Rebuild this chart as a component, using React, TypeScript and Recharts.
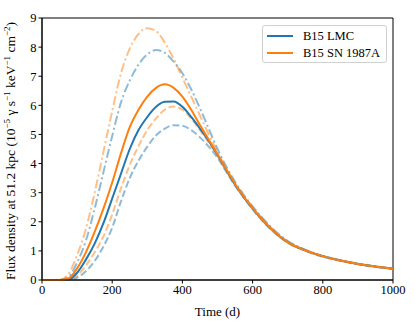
import React from "react"
import { LineChart, Line, XAxis, YAxis, ReferenceArea } from "recharts"

// time grid (days)
const days = [0, 25, 50, 75, 100, 125, 150, 175, 200, 225, 250, 275, 300, 325, 350, 375, 400, 425, 450, 475, 500, 525, 550, 575, 600, 650, 700, 750, 800, 850, 900, 950, 1000]

// flux density, 10^-5 gamma s^-1 keV^-1 cm^-2
const lmc = [0, 0, 0, 0.02, 0.25, 0.7, 1.25, 1.95, 2.8, 3.65, 4.5, 5.15, 5.6, 5.95, 6.12, 6.13, 5.95, 5.6, 5.2, 4.78, 4.3, 3.78, 3.28, 2.85, 2.46, 1.79, 1.3, 1.02, 0.82, 0.67, 0.55, 0.46, 0.39]
const sn1987a = [0, 0, 0, 0.05, 0.4, 0.95, 1.65, 2.45, 3.35, 4.35, 5.25, 5.85, 6.3, 6.6, 6.72, 6.6, 6.3, 5.85, 5.32, 4.82, 4.32, 3.8, 3.3, 2.86, 2.47, 1.8, 1.3, 1.02, 0.82, 0.67, 0.55, 0.46, 0.39]
const lmcDashed = [0, 0, 0, 0, 0.08, 0.3, 0.65, 1.15, 1.8, 2.7, 3.5, 4.1, 4.58, 4.97, 5.2, 5.32, 5.3, 5.15, 4.9, 4.58, 4.2, 3.72, 3.24, 2.82, 2.43, 1.76, 1.28, 1.0, 0.8, 0.66, 0.54, 0.45, 0.38]
const snDashed = [0, 0, 0, 0.01, 0.15, 0.5, 0.95, 1.5, 2.25, 3.15, 3.95, 4.6, 5.15, 5.55, 5.85, 5.96, 5.85, 5.55, 5.15, 4.72, 4.26, 3.76, 3.26, 2.84, 2.44, 1.77, 1.28, 1.01, 0.81, 0.66, 0.55, 0.46, 0.38]
const lmcDashDot = [0, 0, 0, 0.1, 0.6, 1.35, 2.45, 3.7, 4.95, 6.1, 6.85, 7.4, 7.75, 7.9, 7.8, 7.5, 7.1, 6.55, 5.9, 5.2, 4.5, 3.9, 3.37, 2.92, 2.53, 1.85, 1.34, 1.04, 0.83, 0.68, 0.56, 0.47, 0.39]
const snDashDot = [0, 0, 0, 0.2, 0.85, 1.75, 3.0, 4.4, 5.8, 7.1, 7.95, 8.45, 8.65, 8.55, 8.15, 7.6, 6.95, 6.3, 5.65, 5.0, 4.4, 3.84, 3.33, 2.9, 2.51, 1.83, 1.33, 1.03, 0.82, 0.68, 0.56, 0.47, 0.39]

const xTicks = [0, 200, 400, 600, 800, 1000]
const yTicks = [0, 1, 2, 3, 4, 5, 6, 7, 8, 9]

const BLUE = "#1f77b4"
const ORANGE = "#ff7f0e"
const FONT = "'Liberation Serif', 'DejaVu Serif', serif"

const data = days.map((t, i) => ({
  t,
  lmc: lmc[i],
  sn: sn1987a[i],
  lmcDashed: lmcDashed[i],
  snDashed: snDashed[i],
  lmcDashDot: lmcDashDot[i],
  snDashDot: snDashDot[i],
}))

function YLabel() {
  const sup = { fontSize: 9 }
  return (
    <text x={15} y={151} transform="rotate(-90, 15, 151)" textAnchor="middle" fontSize={13.5} fontFamily={FONT} fill="#000">
      Flux density at 51.2 kpc (10
      <tspan dy={-5} style={sup}>−5</tspan>
      <tspan dy={5}> γ s</tspan>
      <tspan dy={-5} style={sup}>−1</tspan>
      <tspan dy={5}> keV</tspan>
      <tspan dy={-5} style={sup}>−1</tspan>
      <tspan dy={5}> cm</tspan>
      <tspan dy={-5} style={sup}>−2</tspan>
      <tspan dy={5}>)</tspan>
    </text>
  )
}

export default function App() {
  const tick = { fontSize: 12.5, fontFamily: FONT, fill: "#000" }
  return (
    <div style={{ position: "absolute", left: 0, top: 0, width: 415, height: 327, background: "#fff" }}>
      <LineChart width={415} height={327} data={data} margin={{ top: 18, right: 22, left: 12, bottom: 17 }}>
        <XAxis
          dataKey="t"
          type="number"
          domain={[0, 1000]}
          ticks={xTicks}
          tick={tick}
          tickSize={3.5}
          tickLine={{ stroke: "#000" }}
          axisLine={{ stroke: "#000" }}
          height={30}
          label={{ value: "Time (d)", position: "insideBottom", offset: -6, style: { fontSize: 13, fontFamily: FONT, fill: "#000" } }}
        />
        <YAxis
          type="number"
          domain={[0, 9]}
          ticks={yTicks}
          tick={tick}
          tickSize={3.5}
          tickLine={{ stroke: "#000" }}
          axisLine={{ stroke: "#000" }}
          width={30}
          label={{ content: () => <YLabel /> }}
        />
        <ReferenceArea x1={0} x2={1000} y1={0} y2={9} fill="none" stroke="#000" strokeWidth={1} />
        <Line dataKey="lmcDashed" type="monotone" stroke={BLUE} strokeOpacity={0.5} strokeWidth={2} strokeDasharray="7 3" dot={false} isAnimationActive={false} />
        <Line dataKey="snDashed" type="monotone" stroke={ORANGE} strokeOpacity={0.5} strokeWidth={2} strokeDasharray="7 3" dot={false} isAnimationActive={false} />
        <Line dataKey="lmcDashDot" type="monotone" stroke={BLUE} strokeOpacity={0.5} strokeWidth={2} strokeDasharray="9 3 2 3" dot={false} isAnimationActive={false} />
        <Line dataKey="snDashDot" type="monotone" stroke={ORANGE} strokeOpacity={0.5} strokeWidth={2} strokeDasharray="9 3 2 3" dot={false} isAnimationActive={false} />
        <Line dataKey="lmc" type="monotone" stroke={BLUE} strokeWidth={2} dot={false} isAnimationActive={false} />
        <Line dataKey="sn" type="monotone" stroke={ORANGE} strokeWidth={2} dot={false} isAnimationActive={false} />
      </LineChart>
      <div
        style={{
          position: "absolute",
          left: 262,
          top: 25,
          width: 125,
          height: 38,
          boxSizing: "border-box",
          border: "1px solid #d0d0d0",
          borderRadius: 3,
          background: "rgba(255,255,255,0.8)",
          fontFamily: FONT,
          fontSize: 12.5,
          color: "#000",
        }}
      >
        {[
          { name: "B15 LMC", color: BLUE },
          { name: "B15 SN 1987A", color: ORANGE },
        ].map((e, i) => (
          <div key={e.name} style={{ position: "absolute", left: 4, top: 3 + i * 17, height: 14, display: "flex", alignItems: "center", whiteSpace: "nowrap" }}>
            <span style={{ display: "inline-block", width: 26, height: 2, background: e.color, marginRight: 10 }} />
            <span>{e.name}</span>
          </div>
        ))}
      </div>
    </div>
  )
}
